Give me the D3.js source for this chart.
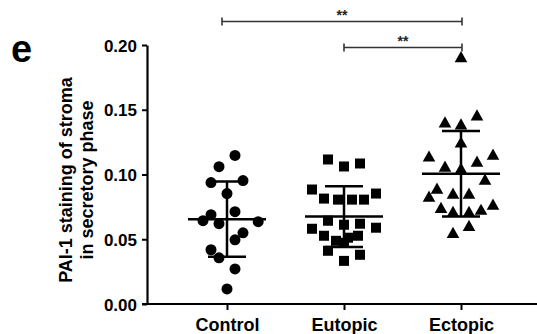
<!DOCTYPE html>
<html><head><meta charset="utf-8">
<script src="https://cdn.jsdelivr.net/npm/d3@7"></script>
<style>body{margin:0;background:#fff}svg{display:block;font-family:Arial,"Liberation Sans",sans-serif}</style>
</head><body>
<script>
const categories = ["Control", "Eutopic", "Ectopic"];
const shapes = ["circle", "square", "triangle"];
const controlValues = [0.1147,0.1060,0.0938,0.0953,0.0853,0.0690,0.0713,0.0643,0.0620,0.0636,0.0550,0.0496,0.0419,0.0357,0.0271,0.0116];
const controlJitter = [1,-1,-2,2,0,-2,1,-3,-1,3.9,2,1,-2,-1,1,0];
const eutopicValues = [0.1116,0.1062,0.1085,0.0884,0.0814,0.0806,0.0806,0.0806,0.0853,0.0643,0.0612,0.0620,0.0581,0.0589,0.0527,0.0488,0.0512,0.0527,0.0473,0.0411,0.0380,0.0333];
const eutopicJitter = [-2,0,2,-4,-2.5,-0.75,1,2.5,4,-2,0,2,-4,4,-2.5,-1,0.5,1.75,0,-2,2,0];
const ectopicValues = [0.190,0.1395,0.1380,0.1450,0.1240,0.1132,0.1147,0.1054,0.1039,0.1093,0.0953,0.0884,0.0822,0.0845,0.0845,0.0736,0.0705,0.0705,0.0721,0.0760,0.0597,0.0543];
const ectopicJitter = [0,-2,0,2,0,-4,4,-2,0,2,3,-3,-4,-1,1,-2.5,-1,1,2.5,4,1,-1];
const means = [0.0655, 0.0675, 0.1005];
const sds = [0.0290, 0.0235, 0.0330];
const yTicks = [0.00, 0.05, 0.10, 0.15, 0.20];
const comparisons = [
  {from: "Control", to: "Ectopic", label: "**", level: 0},
  {from: "Eutopic", to: "Ectopic", label: "**", level: 1}
];
const yLabelLines = ["PAI-1 staining of stroma", "in secretory phase"];
const panelLetter = "e";

const groups = [
  {cat: "Control", values: controlValues, jitter: controlJitter},
  {cat: "Eutopic", values: eutopicValues, jitter: eutopicJitter},
  {cat: "Ectopic", values: ectopicValues, jitter: ectopicJitter}
];

const W = 537, H = 334;
const FONT = "Arial, 'Liberation Sans', sans-serif";
const svg = d3.select("body").append("svg").attr("width", W).attr("height", H);

const axisX = 147, baseY = 304, topY = 45;
const x = d3.scalePoint().domain(categories).range([227, 461]);
const y = d3.scaleLinear().domain([0, 0.20]).range([baseY, topY]);
const jitterUnit = 8;

// Y axis
const yAxis = svg.append("g").attr("transform", `translate(${axisX},0)`)
  .call(d3.axisLeft(y).tickValues(yTicks).tickFormat(d3.format(".2f")).tickSize(5).tickSizeOuter(0));
yAxis.select(".domain").attr("stroke", "#000").attr("stroke-width", 2.2);
yAxis.selectAll(".tick line").attr("stroke", "#000").attr("stroke-width", 2);
yAxis.selectAll(".tick text").attr("font-size", 17).attr("font-weight", "bold").attr("fill", "#000")
  .attr("x", -10).attr("dy", "0.36em").attr("font-family", FONT);

// X axis
const xAxis = svg.append("g").attr("transform", `translate(0,${baseY})`)
  .call(d3.axisBottom(x).tickSize(6).tickSizeOuter(0));
xAxis.select(".domain").attr("d", `M${axisX - 5},0H${W}`).attr("stroke", "#000").attr("stroke-width", 2.2);
xAxis.selectAll(".tick line").attr("stroke", "#000").attr("stroke-width", 2);
xAxis.selectAll(".tick text").attr("font-size", 18).attr("font-weight", "bold").attr("fill", "#000")
  .attr("y", 27).attr("dy", 0).attr("font-family", FONT);

// Y label
const yl = svg.append("text").attr("transform", `translate(72,180) rotate(-90)`)
  .attr("text-anchor", "middle").attr("font-size", 18).attr("font-weight", "bold").attr("fill", "#000")
  .attr("font-family", FONT);
yLabelLines.forEach((t, i) => yl.append("tspan").attr("x", 0).attr("dy", i === 0 ? 0 : 21).text(t));

// Panel letter
svg.append("text").attr("x", 11).attr("y", 62).attr("font-size", 38).attr("font-weight", "bold")
  .attr("fill", "#000").attr("font-family", FONT).text(panelLetter);

// Markers
function shapePath(s) {
  if (s === "circle") return d3.symbol(d3.symbolCircle, 95)();
  if (s === "square") return "M-5,-5H5V5H-5Z";
  return "M0,-7L6.3,4.2H-6.3Z";
}
groups.forEach((g, gi) => {
  const cx = x(g.cat);
  svg.append("g").selectAll("path").data(g.values).join("path")
    .attr("d", shapePath(shapes[gi]))
    .attr("transform", (v, i) => `translate(${cx + g.jitter[i] * jitterUnit},${y(v)})`)
    .attr("fill", "#000");
});

// Mean & SD
groups.forEach((g, gi) => {
  const cx = x(g.cat);
  const m = means[gi], s = sds[gi];
  const gg = svg.append("g").attr("stroke", "#000").attr("stroke-width", 2.5);
  gg.append("line").attr("x1", cx - 39).attr("x2", cx + 39).attr("y1", y(m)).attr("y2", y(m));
  gg.append("line").attr("x1", cx).attr("x2", cx).attr("y1", y(m + s)).attr("y2", y(m - s));
  gg.append("line").attr("x1", cx - 19).attr("x2", cx + 19).attr("y1", y(m + s)).attr("y2", y(m + s));
  gg.append("line").attr("x1", cx - 19).attr("x2", cx + 19).attr("y1", y(m - s)).attr("y2", y(m - s));
});

// Significance brackets
comparisons.forEach(c => {
  const by = 21.5 + c.level * 26;
  const x1 = x(c.from) - 5 * (c.from === "Control" ? 1 : 0), x2 = x(c.to) + 1;
  const g = svg.append("g").attr("stroke", "#333").attr("stroke-width", 1.6);
  g.append("line").attr("x1", x1).attr("x2", x2).attr("y1", by).attr("y2", by);
  g.append("line").attr("x1", x1).attr("x2", x1).attr("y1", by - 4).attr("y2", by + 4);
  g.append("line").attr("x1", x2).attr("x2", x2).attr("y1", by - 4).attr("y2", by + 4);
  svg.append("text").attr("x", (x1 + x2) / 2).attr("y", by - 2).attr("text-anchor", "middle")
    .attr("font-size", 14).attr("font-weight", "bold").attr("fill", "#222").attr("font-family", FONT).text(c.label);
});
</script>
</body></html>
